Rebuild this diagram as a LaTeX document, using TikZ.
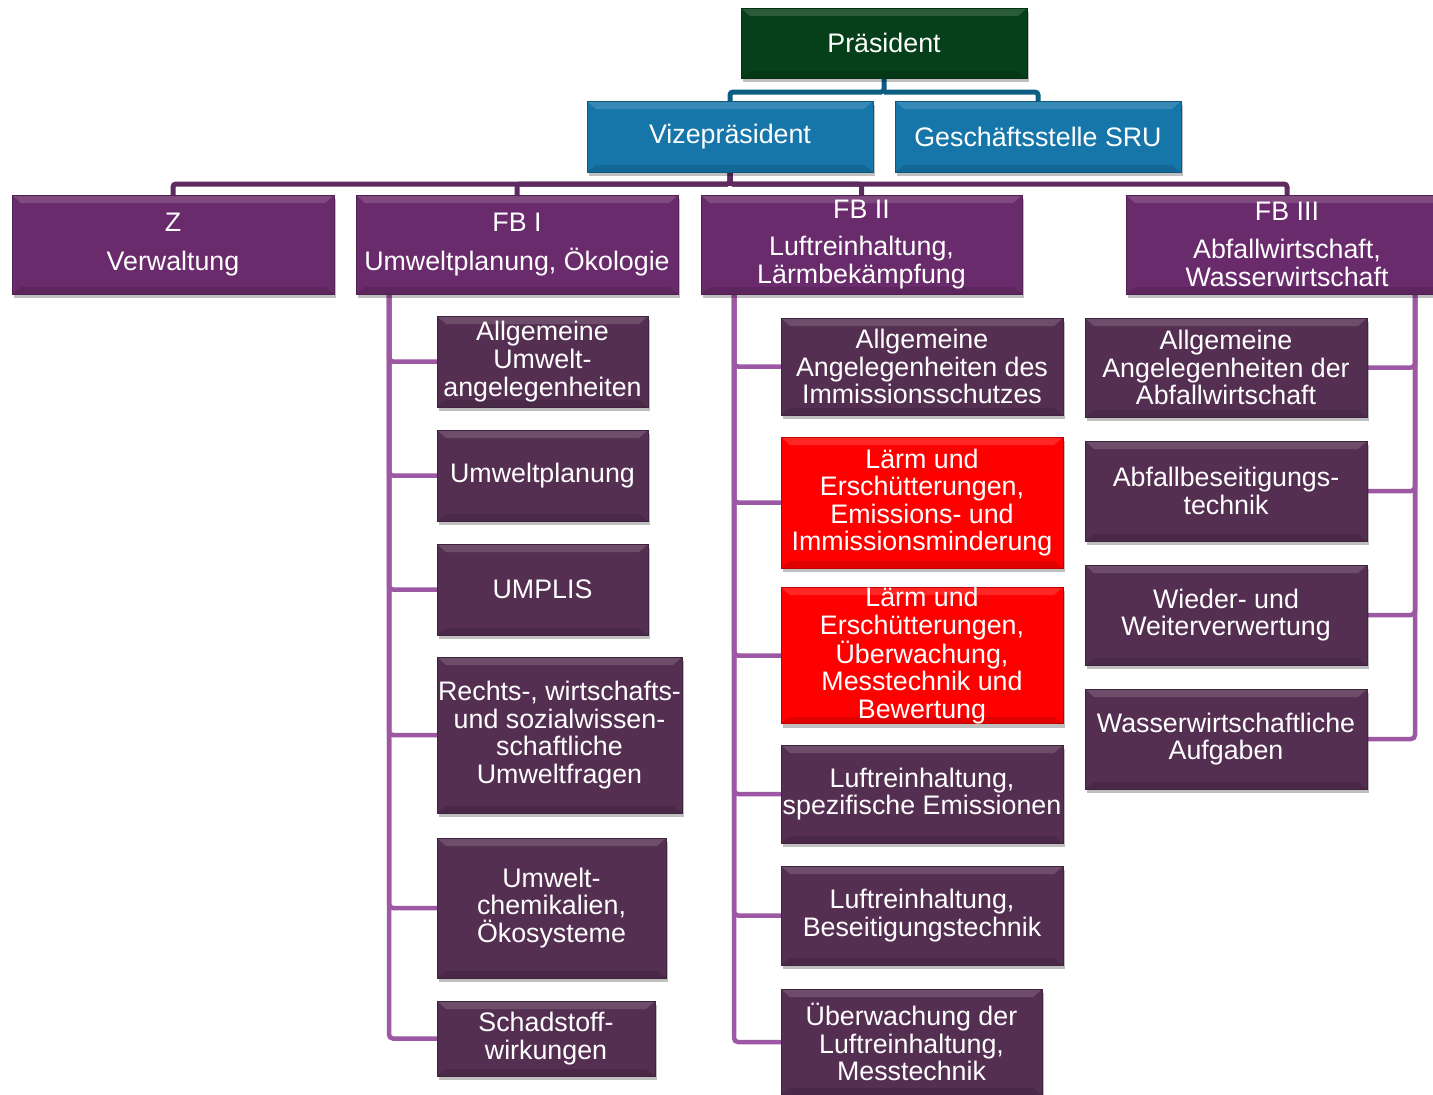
\documentclass[tikz,border=0pt]{standalone}
\usepackage{fontspec}
\setmainfont{Liberation Sans}
\usepackage{xcolor}
\usepackage{tikz}
\usetikzlibrary{positioning,calc,shadows}
\definecolor{cPres}{HTML}{05401A}
\definecolor{cVize}{HTML}{1676AA}
\definecolor{cFB}{HTML}{6A2B6C}
\definecolor{cSub}{HTML}{552F52}
\definecolor{cRed}{HTML}{FF0000}
\definecolor{cTopLine}{HTML}{0C5F82}
\definecolor{cFBLine}{HTML}{5E2B60}
\definecolor{cSubLine}{HTML}{9C58A2}

\begin{document}
\begin{tikzpicture}[x=1pt,y=1pt,
    every node/.style={font=\fontsize{26.8}{27.6}\selectfont,text=white},
    unit/.style={fill=#1,draw=#1!75!black,line width=1pt,inner sep=0pt,align=center,
      drop shadow={shadow xshift=2pt,shadow yshift=-4pt,opacity=0.25,fill=black},
      path picture={
        \fill[white,opacity=0.15] (path picture bounding box.north west) -- (path picture bounding box.north east)
          -- ([shift={(-9,-8)}]path picture bounding box.north east) -- ([shift={(9,-8)}]path picture bounding box.north west) -- cycle;
        \fill[black,opacity=0.12] (path picture bounding box.south west) -- (path picture bounding box.south east)
          -- ([shift={(-9,7)}]path picture bounding box.south east) -- ([shift={(9,7)}]path picture bounding box.south west) -- cycle;}},
    topline/.style={draw=cTopLine,line width=5pt,rounded corners=3pt},
    fbline/.style={draw=cFBLine,line width=5pt,rounded corners=3pt},
    subline/.style={draw=cSubLine,line width=4.5pt,rounded corners=4pt}]
  \clip (0,0) rectangle (1433,-1095);
  \fill[white] (0,0) rectangle (1433,-1095);

  % connectors first, boxes on top
  \coordinate (presbus) at (884,-92);
  \coordinate (bus) at (730,-184);
  \draw[topline] (884,-78) -- (presbus) -| (730,-101);
  \draw[topline] (presbus) -| (1038,-101);
  \foreach \x in {173,517,861.5,1287}
    \draw[fbline] (730,-172) -- (bus) -| (\x,-195);
  % FB I
  \foreach \y in {-361.5,-475.5,-589.5,-735,-908,-1038.5}
    \draw[subline] (389,-294) |- (437,\y);
  % FB II
  \foreach \y in {-366.5,-502.5,-655.5,-794,-915.5,-1042}
    \draw[subline] (734,-294) |- (781,\y);
  % FB III
  \foreach \y in {-367.5,-491,-615,-739}
    \draw[subline] (1415,-294) |- (1367,\y);

  % leitung
  \node[unit=cPres,minimum width=286,minimum height=70] (pres) at (884,-43) {Präsident};
  \node[unit=cVize,minimum width=286,minimum height=71] (vize) at (730,-136.5) {Vizepräsident};
  \node[unit=cVize,minimum width=286,minimum height=71] (sru) at (1038,-136.5) {Geschäftsstelle SRU};

  % fachbereiche
  \node[unit=cFB,minimum width=322,minimum height=99] (z) at (173,-244.5) {Z\\[11pt]Verwaltung};
  \node[unit=cFB,minimum width=322,minimum height=99] (fbi) at (517,-244.5) {FB I\\[11pt]Umweltplanung, Ökologie};
  \node[unit=cFB,minimum width=321,minimum height=99] (fbii) at (861.5,-244.5) {FB II\\[10pt]Luftreinhaltung,\\Lärmbekämpfung};
  \node[unit=cFB,minimum width=322,minimum height=99] (fbiii) at (1287,-244.5) {FB III\\[10pt]Abfallwirtschaft,\\Wasserwirtschaft};

  % FB I
  \node[unit=cSub,minimum width=211,minimum height=91] (fbiA) at (542.5,-361.5) {Allgemeine\\Umwelt-\\angelegenheiten};
  \node[unit=cSub,minimum width=211,minimum height=91] (fbiB) at (542.5,-475.5) {Umweltplanung};
  \node[unit=cSub,minimum width=211,minimum height=91] (fbiC) at (542.5,-589.5) {UMPLIS};
  \node[unit=cSub,minimum width=245,minimum height=156] (fbiD) at (559.5,-735) {Rechts-, wirtschafts-\\und sozialwissen-\\schaftliche\\Umweltfragen};
  \node[unit=cSub,minimum width=229,minimum height=140] (fbiE) at (551.5,-908) {Umwelt-\\chemikalien,\\Ökosysteme};
  \node[unit=cSub,minimum width=218,minimum height=75] (fbiF) at (546,-1038.5) {Schadstoff-\\wirkungen};

  % FB II
  \node[unit=cSub,minimum width=282,minimum height=97] (fbiiA) at (922,-366.5) {Allgemeine\\Angelegenheiten des\\Immissionsschutzes};
  \node[unit=cRed,minimum width=282,minimum height=131] (fbiiB) at (922,-502.5) {Lärm und\\Erschütterungen,\\Emissions- und\\Immissionsminderung};
  \node[unit=cRed,minimum width=282,minimum height=129] (fbiiC) at (922,-655.5) {Lärm und\\Erschütterungen,\\Überwachung,\\Messtechnik und\\Bewertung};
  \node[unit=cSub,minimum width=282,minimum height=98] (fbiiD) at (922,-794) {Luftreinhaltung,\\spezifische Emissionen};
  \node[unit=cSub,minimum width=282,minimum height=99] (fbiiE) at (922,-915.5) {Luftreinhaltung,\\Beseitigungstechnik};
  \node[unit=cSub,minimum width=261,minimum height=106] (fbiiF) at (911.5,-1042) {Überwachung der\\Luftreinhaltung,\\Messtechnik};

  % FB III
  \node[unit=cSub,minimum width=282,minimum height=99] (fbiiiA) at (1226,-367.5) {Allgemeine\\Angelegenheiten der\\Abfallwirtschaft};
  \node[unit=cSub,minimum width=282,minimum height=100] (fbiiiB) at (1226,-491) {Abfallbeseitigungs-\\technik};
  \node[unit=cSub,minimum width=282,minimum height=100] (fbiiiC) at (1226,-615) {Wieder- und\\Weiterverwertung};
  \node[unit=cSub,minimum width=282,minimum height=100] (fbiiiD) at (1226,-739) {Wasserwirtschaftliche\\Aufgaben};
\end{tikzpicture}
\end{document}
